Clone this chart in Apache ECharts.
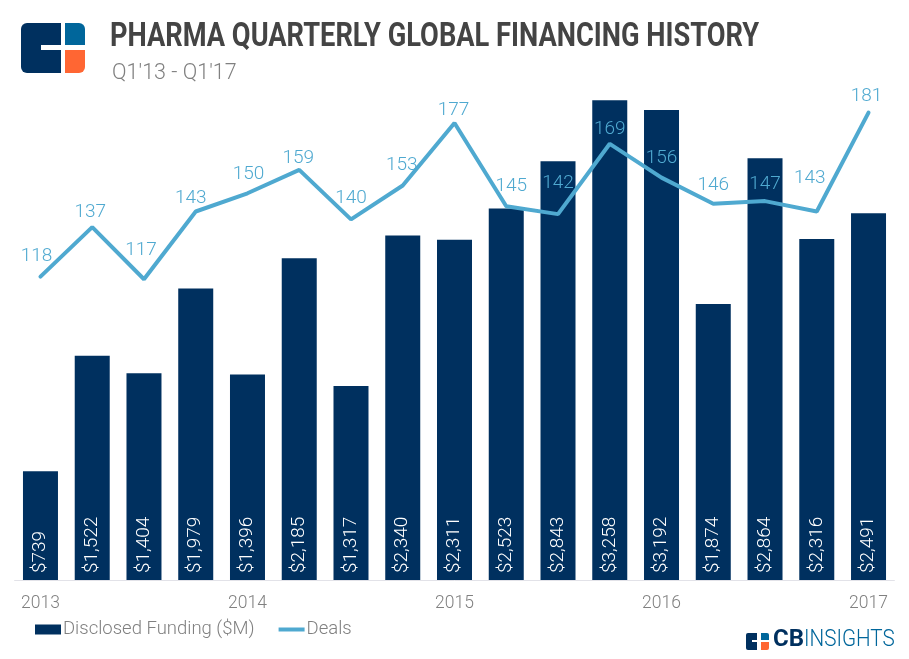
<!DOCTYPE html>
<html>
<head>
<meta charset="utf-8">
<style>
  html, body { margin: 0; padding: 0; background: #fff; }
  #main { width: 909px; height: 659px; }
</style>
<script src="https://cdn.jsdelivr.net/npm/echarts@6/dist/echarts.min.js"></script>
</head>
<body>
<div id="main"></div>
<script>
var quarters = ["Q1'13","Q2'13","Q3'13","Q4'13","Q1'14","Q2'14","Q3'14","Q4'14","Q1'15","Q2'15","Q3'15","Q4'15","Q1'16","Q2'16","Q3'16","Q4'16","Q1'17"];
var funding = [739,1522,1404,1979,1396,2185,1317,2340,2311,2523,2843,3258,3192,1874,2864,2316,2491];
var deals = [118,137,117,143,150,159,140,153,177,145,142,169,156,146,147,143,181];
// label nudges so the deal numbers sit where the original has them [dx, dy]
var dealLabelOffsets = [[-4,0],[-2,5],[-3,-9],[-5,7],[1,1],[-1,8],[0,-1],[-1,0],[-1,7],[5,0],[0,-11],[0,5],[0,1],[0,2],[0,3],[-7,-13],[-2,4]];

var navy = '#00305f';
var sky = '#4fa9d0';
var grey = '#808080';
var font = 'Roboto';

var myChart = echarts.init(document.getElementById('main'));

myChart.setOption({
  animation: false,
  backgroundColor: '#fff',
  textStyle: { fontFamily: font },
  grid: { left: 14.6, right: 14.6, top: 80, bottom: 79 },
  legend: {
    left: 30, top: 615, itemGap: 24, itemWidth: 26, itemHeight: 10,
    textStyle: { color: grey, fontSize: 18.5, fontWeight: 300, fontFamily: font, padding: [0, 0, 0, -3] },
    data: [
      { name: 'Disclosed Funding ($M)', icon: 'rect' },
      // thick dash inside an otherwise empty 26x10 box
      { name: 'Deals', icon: 'path://M0 0L0 0M26 10L26 10M0 3H26V7H0Z' }
    ]
  },
  xAxis: {
    type: 'category',
    data: quarters,
    axisTick: { show: false },
    axisLine: { lineStyle: { color: '#e2e2e8', width: 1 } },
    axisLabel: {
      interval: 0, margin: 15, color: grey, fontSize: 17.5, fontWeight: 300,
      formatter: function (v, i) { return i % 4 === 0 ? '20' + v.slice(3) : ''; }
    }
  },
  yAxis: [
    { type: 'value', min: 0, max: 3395, show: false },
    { type: 'value', min: 1.5, max: 193.5, show: false }
  ],
  series: [
    {
      name: 'Disclosed Funding ($M)',
      type: 'bar',
      data: funding,
      barWidth: 35,
      itemStyle: { color: navy },
      label: {
        show: true, position: 'insideBottom', rotate: 90, align: 'left', verticalAlign: 'middle',
        distance: 5, offset: [2, 0], color: '#fff', fontSize: 19, fontWeight: 300,
        formatter: function (p) { return '$' + p.value.toLocaleString('en-US'); }
      }
    },
    {
      name: 'Deals',
      type: 'line',
      yAxisIndex: 1,
      showSymbol: true,
      symbol: 'circle',
      symbolSize: 1,
      z: 3,
      lineStyle: { color: sky, width: 4, cap: 'round' },
      itemStyle: { color: sky },
      data: deals.map(function (d, i) {
        return {
          value: d,
          label: { show: true, position: 'top', distance: 10, offset: dealLabelOffsets[i], color: sky, fontSize: 19, fontWeight: 300 }
        };
      })
    }
  ],
  graphic: [
    // big logo
    { type: 'rect', shape: { x: 21, y: 23, width: 40, height: 50, r: [6, 0, 0, 6] }, style: { fill: navy } },
    { type: 'rect', shape: { x: 41, y: 45, width: 20, height: 5 }, style: { fill: '#fff' } },
    { type: 'rect', shape: { x: 65, y: 23, width: 20, height: 22, r: [0, 6, 0, 0] }, style: { fill: '#00669b' } },
    { type: 'rect', shape: { x: 65, y: 50, width: 20, height: 23, r: [0, 0, 6, 0] }, style: { fill: '#ff6633' } },
    // title
    { type: 'text', x: 110, y: 21, scaleX: 0.825, style: { text: 'PHARMA QUARTERLY GLOBAL FINANCING HISTORY', fill: '#444', fontFamily: font, fontWeight: 700, fontSize: 33 } },
    { type: 'text', x: 112, y: 63, style: { text: "Q1'13 - Q1'17", fill: grey, fontFamily: font, fontWeight: 300, fontSize: 21.5 } },
    // small logo, bottom right
    { type: 'rect', shape: { x: 746, y: 633, width: 11, height: 17, r: [2, 0, 0, 2] }, style: { fill: navy } },
    { type: 'rect', shape: { x: 752, y: 640, width: 5, height: 2 }, style: { fill: '#fff' } },
    { type: 'rect', shape: { x: 761, y: 633, width: 8, height: 7, r: [0, 2, 0, 0] }, style: { fill: '#00669b' } },
    { type: 'rect', shape: { x: 761, y: 642, width: 8, height: 8, r: [0, 0, 2, 0] }, style: { fill: '#ff6633' } },
    { type: 'text', x: 773, y: 628, style: { text: 'CB', fill: navy, fontFamily: font, fontWeight: 700, fontSize: 24 } },
    { type: 'text', x: 804, y: 628, scaleX: 0.86, style: { text: 'INSIGHTS', fill: '#00669b', fontFamily: font, fontWeight: 300, fontSize: 24 } }
  ]
});
</script>
</body>
</html>
